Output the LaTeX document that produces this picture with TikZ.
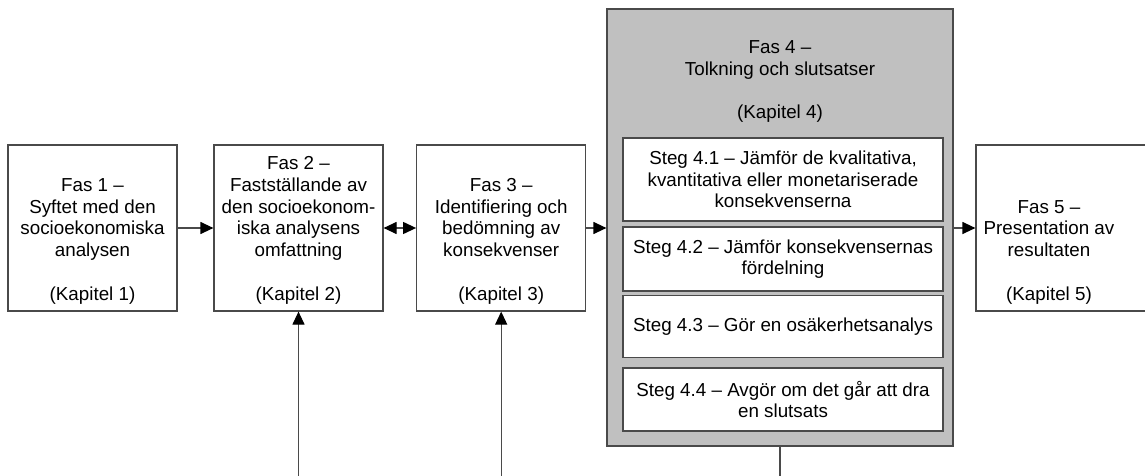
\documentclass[tikz,border=0pt]{standalone}
\usepackage{fontspec}
\setmainfont{Liberation Sans}
\usetikzlibrary{arrows.meta,positioning}
\definecolor{phase}{HTML}{C0C0C0}
\definecolor{edge}{HTML}{4A4A4A}
\newcommand{\fastext}[1]{\parbox[c][148pt][b]{165pt}{\centering #1}}

\begin{document}
\begin{tikzpicture}[x=1pt,y=-1pt,
    font=\fontsize{18.8}{21.7}\selectfont,
    box/.style={draw=edge,line width=1.2pt,fill=white,inner sep=0pt,align=center},
    fasbox/.style={box,minimum width=169pt,minimum height=166pt},
    stegbox/.style={box,minimum width=320pt},
    tip/.tip={Triangle[length=13pt,width=12pt,color=black]},
    arrow/.style={draw=edge,line width=1.2pt,-tip}
  ]
    \useasboundingbox (0,0) rectangle (1145,476);
    \node[fasbox] (fas1) at (92.5,228) {\fastext{Fas 1 –\\Syftet med den\\socioekonomiska\\analysen\\[\baselineskip](Kapitel 1)}};
    \node[fasbox] (fas2) at (298.5,228) {\fastext{Fas 2 –\\Fastställande av\\den socioekonom-\\iska analysens\\omfattning\\[\baselineskip](Kapitel 2)}};
    \node[fasbox] (fas3) at (501.2,228) {\fastext{Fas 3 –\\Identifiering och\\bedömning av\\konsekvenser\\[\baselineskip](Kapitel 3)}};
    \node[box,fill=phase,minimum width=346pt,minimum height=437pt] (fas4) at (780,227.5) {};
    \node[align=center] (fas4txt) at (780,81.5) {Fas 4 –\\Tolkning och slutsatser\\[\baselineskip](Kapitel 4)};
    \node[stegbox,minimum height=83pt] (steg1) at (783,179.5) {Steg 4.1 – Jämför de kvalitativa,\\kvantitativa eller monetariserade\\konsekvenserna};
    \node[stegbox,minimum height=64pt] (steg2) at (783,259) {Steg 4.2 – Jämför konsekvensernas\\fördelning};
    \node[stegbox,minimum height=62pt] (steg3) at (783,326.5) {Steg 4.3 – Gör en osäkerhetsanalys};
    \node[stegbox,minimum height=63pt] (steg4) at (783,399.5) {Steg 4.4 – Avgör om det går att dra\\en slutsats};
    \node[fasbox,minimum width=184pt] (fas5) at (1068,228) {};
    \node (fas5txt) at (1049,228) {\fastext{Fas 5 –\\Presentation av\\resultaten\\[\baselineskip](Kapitel 5)}};
    \coordinate (b2) at (298.5,476);
    \coordinate (b3) at (501.2,476);
    \coordinate (b4) at (780,476);
    \draw[arrow] (fas1) -- (fas2);
    \draw[arrow,tip-tip] (fas2) -- (fas3);
    \draw[arrow] (fas3.east) -- (fas3.east -| fas4.west);
    \draw[arrow] (fas4.east |- fas5.west) -- (fas5.west);
    \draw[arrow] (b2) -- (fas2.south);
    \draw[arrow] (b3) -- (fas3.south);
    \draw[draw=edge,line width=1.2pt] (fas4.south) -- (b4);
  \end{tikzpicture}
\end{document}
